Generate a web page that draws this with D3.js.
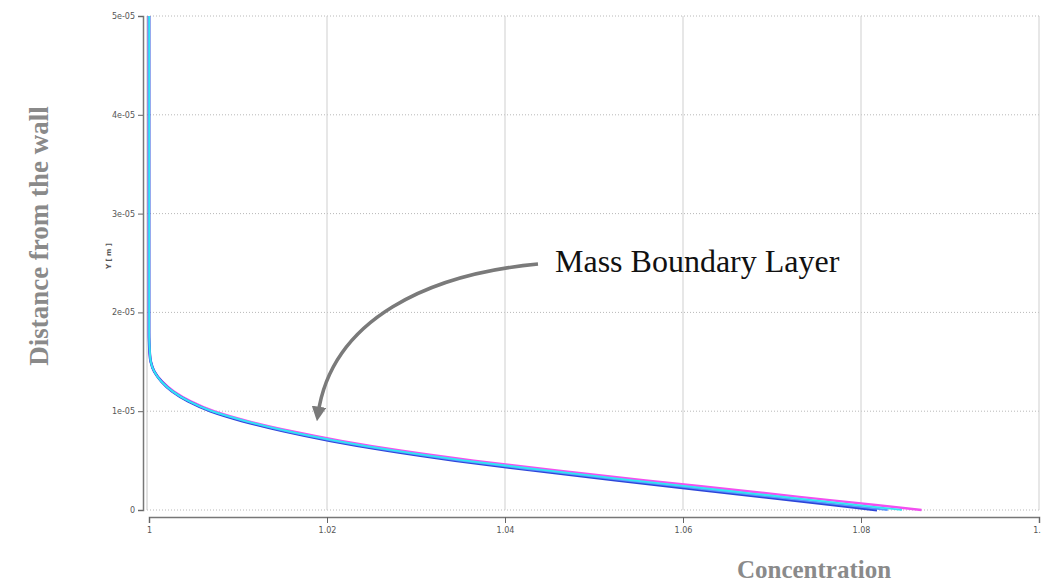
<!DOCTYPE html>
<html>
<head>
<meta charset="utf-8">
<script src="https://cdn.jsdelivr.net/npm/d3@7"></script>
<style>
  body { margin: 0; background: #fff; }
  svg { display: block; }
</style>
</head>
<body>
<div id="chart"></div>
<script>
// distance from the wall, metres
var yPos = [0, 1e-6, 2e-6, 3e-6, 4e-6, 5e-6, 6e-6, 7e-6, 8e-6, 9e-6, 10e-6, 11e-6, 12e-6,
            13e-6, 14e-6, 15e-6, 16e-6, 17e-6, 18e-6, 20e-6, 25e-6, 30e-6, 40e-6, 50e-6];

// concentration for each run
var magentaConc = [1.0868, 1.0765, 1.0662, 1.0558, 1.0458, 1.0365, 1.0284, 1.0216, 1.0159, 1.0111, 1.0073, 1.0047,
                   1.0028, 1.0015, 1.0006, 1.0002, 1.00007, 1.00002, 1.0, 1.0, 1.0, 1.0, 1.0, 1.0];
var blueConc    = [1.0818, 1.0721, 1.0624, 1.0526, 1.0432, 1.0344, 1.0268, 1.0204, 1.0150, 1.0105, 1.0069, 1.0044,
                   1.0026, 1.0014, 1.0006, 1.0002, 1.00007, 1.00002, 1.0, 1.0, 1.0, 1.0, 1.0, 1.0];
var lightConc   = [1.0830, 1.0732, 1.0633, 1.0534, 1.0439, 1.0349, 1.0272, 1.0207, 1.0152, 1.0107, 1.0070, 1.0045,
                   1.0026, 1.0014, 1.0006, 1.0002, 1.00007, 1.00002, 1.0, 1.0, 1.0, 1.0, 1.0, 1.0];
var cyanConc    = [1.0846, 1.0746, 1.0645, 1.0544, 1.0447, 1.0356, 1.0277, 1.0211, 1.0155, 1.0109, 1.0071, 1.0045,
                   1.0027, 1.0014, 1.0006, 1.0002, 1.0001, 1.00005, 1.00003, 1.00003, 1.00003, 1.00003, 1.00003, 1.00003];

var seriesNames  = ["magenta", "blue", "light", "cyan"];
var seriesColors = ["#f24ff0", "#2d45d8", "#5b93ff", "#30e8f2"];
var seriesWidths = [2.4, 2.8, 1.8, 1.8];

var xTicks = [1, 1.02, 1.04, 1.06, 1.08, 1.1];
var xTickLabels = ["1", "1.02", "1.04", "1.06", "1.08", "1.1"];
var yTicks = [0, 1e-5, 2e-5, 3e-5, 4e-5, 5e-5];
var yTickLabels = ["0", "1e-05", "2e-05", "3e-05", "4e-05", "5e-05"];

var width = 1041, height = 584;
var svg = d3.select("#chart").append("svg")
  .attr("width", width)
  .attr("height", height);

var x = d3.scaleLinear().domain([1, 1.1]).range([149, 1039]);
var y = d3.scaleLinear().domain([0, 5e-5]).range([510, 16]);

// grid
svg.append("g").selectAll("line")
  .data(yTicks).enter().append("line")
  .attr("x1", 147).attr("x2", x(1.1))
  .attr("y1", d => y(d)).attr("y2", d => y(d))
  .style("stroke", "#b8b8b8")
  .style("stroke-width", 1)
  .style("stroke-dasharray", "1,2");

svg.append("g").selectAll("line")
  .data(xTicks.slice(1)).enter().append("line")
  .attr("x1", d => x(d)).attr("x2", d => x(d))
  .attr("y1", y(5e-5)).attr("y2", y(0))
  .style("stroke", "#cfcfcf")
  .style("stroke-width", 1);

// left frame line of the plot box
svg.append("line")
  .attr("x1", 147).attr("x2", 147)
  .attr("y1", y(5e-5)).attr("y2", y(0))
  .style("stroke", "#c4c4c4");

// y axis
var yAxis = d3.axisLeft(y)
  .tickValues(yTicks)
  .tickFormat((d, i) => yTickLabels[i])
  .tickSize(5)
  .tickPadding(3);
var yMinor = d3.axisLeft(y).ticks(25).tickFormat("").tickSize(3);

var gy = svg.append("g").attr("transform", "translate(143,0)");
gy.call(yMinor);
gy.call(yAxis);
gy.selectAll("path").style("stroke", "#777").style("stroke-width", 1.5);
gy.selectAll("line").style("stroke", "#666");
gy.selectAll("text").style("font-family", "'DejaVu Sans', sans-serif").style("font-size", "8px").style("fill", "#555");

// x axis
var xAxis = d3.axisBottom(x)
  .tickValues(xTicks)
  .tickFormat((d, i) => xTickLabels[i])
  .tickSize(6)
  .tickPadding(4);
var xMinor = d3.axisBottom(x).ticks(20).tickFormat("").tickSize(3);

var gx = svg.append("g").attr("transform", "translate(0,517)");
gx.call(xMinor);
gx.call(xAxis);
gx.selectAll("path").style("stroke", "#777").style("stroke-width", 1.5);
gx.selectAll("line").style("stroke", "#666");
gx.selectAll("text").style("font-family", "'DejaVu Sans', sans-serif").style("font-size", "8px").style("fill", "#555");

// small axis unit label
svg.append("text")
  .attr("transform", "translate(111,256) rotate(-90)")
  .attr("text-anchor", "middle")
  .style("font-family", "'DejaVu Sans', sans-serif")
  .style("font-size", "7px")
  .style("font-weight", "bold")
  .style("fill", "#555")
  .text("Y [ m ]");

// lines
var allConc = [magentaConc, blueConc, lightConc, cyanConc];
var line = d3.line()
  .x(d => x(d.c))
  .y(d => y(d.y))
  .curve(d3.curveMonotoneY);

svg.append("g").selectAll("path")
  .data(allConc.map((arr, i) => ({ name: seriesNames[i], color: seriesColors[i], w: seriesWidths[i],
                                   pts: arr.map((c, j) => ({ c: c, y: yPos[j] })) })))
  .enter().append("path")
  .attr("d", d => line(d.pts))
  .style("fill", "none")
  .style("stroke", d => d.color)
  .style("stroke-width", d => d.w);

// annotation arrow
svg.append("defs").append("marker")
  .attr("id", "head")
  .attr("viewBox", "0 0 10 10")
  .attr("refX", 5).attr("refY", 5)
  .attr("markerWidth", 4.2).attr("markerHeight", 4.2)
  .attr("orient", "auto")
  .append("path")
  .attr("d", "M0,0 L10,5 L0,10 Z")
  .style("fill", "#7a7a7a");

svg.append("path")
  .attr("d", "M538,264 C430,274 332,318 318,414")
  .style("fill", "none")
  .style("stroke", "#7a7a7a")
  .style("stroke-width", 3.5)
  .attr("marker-end", "url(#head)");

svg.append("text")
  .attr("x", 555).attr("y", 272)
  .style("font-family", "'Liberation Serif', 'Times New Roman', serif")
  .style("font-size", "32px")
  .style("fill", "#111")
  .text("Mass Boundary Layer");

// axis titles
svg.append("text")
  .attr("transform", "translate(48,236) rotate(-90)")
  .attr("text-anchor", "middle")
  .style("font-family", "'Liberation Serif', 'Times New Roman', serif")
  .style("font-size", "27px")
  .style("font-weight", "bold")
  .style("fill", "#8a8a8a")
  .text("Distance from the wall");

svg.append("text")
  .attr("x", 814).attr("y", 578)
  .attr("text-anchor", "middle")
  .style("font-family", "'Liberation Serif', 'Times New Roman', serif")
  .style("font-size", "25px")
  .style("font-weight", "bold")
  .style("fill", "#8a8a8a")
  .text("Concentration");
</script>
</body>
</html>
